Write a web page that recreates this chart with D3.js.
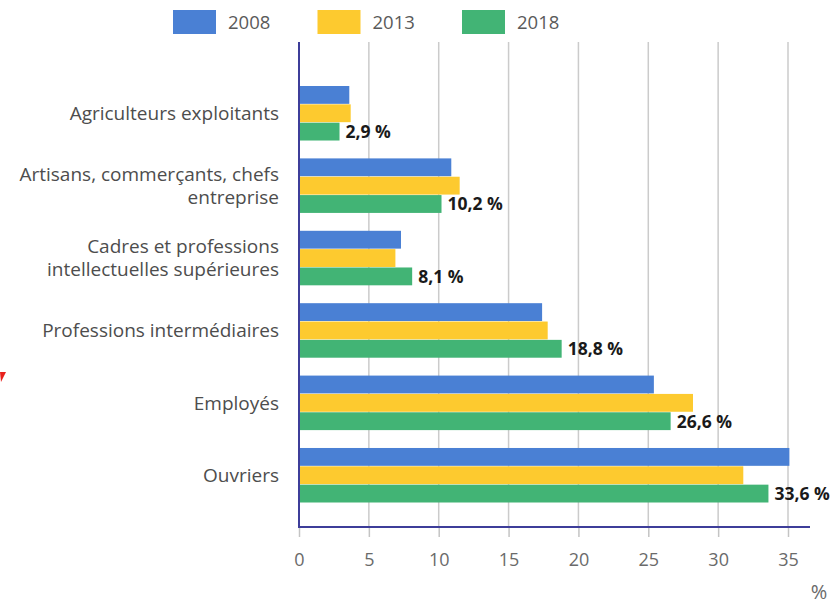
<!DOCTYPE html>
<html>
<head>
<meta charset="utf-8">
<script src="https://cdn.jsdelivr.net/npm/d3@7"></script>
<style>
  body { margin: 0; background: #fff; }
  svg text { font-family: "Open Sans", sans-serif; }
</style>
</head>
<body>
<div id="chart"></div>
<script>
  // categories (top to bottom), each label split in lines
  var categories = [
    ["Agriculteurs exploitants"],
    ["Artisans, commerçants, chefs", "entreprise"],
    ["Cadres et professions", "intellectuelles supérieures"],
    ["Professions intermédiaires"],
    ["Employés"],
    ["Ouvriers"]
  ];
  var years = ["2008", "2013", "2018"];
  var values2008 = [3.6, 10.9, 7.3, 17.4, 25.4, 35.1];
  var values2013 = [3.7, 11.5, 6.9, 17.8, 28.2, 31.8];
  var values2018 = [2.9, 10.2, 8.1, 18.8, 26.6, 33.6];
  var labels2018 = ["2,9 %", "10,2 %", "8,1 %", "18,8 %", "26,6 %", "33,6 %"];
  var xTicks = [0, 5, 10, 15, 20, 25, 30, 35];
  var colors = ["#4a80d4", "#fdca2f", "#42b475"];

  var width = 836, height = 606;
  var series = [values2008, values2013, values2018];

  var svg = d3.select("#chart")
    .append("svg")
    .attr("width", width)
    .attr("height", height);

  var x = d3.scaleLinear()
    .domain([0, 35])
    .range([299, 788]);

  var y = d3.scaleBand()
    .domain(d3.range(categories.length))
    .range([86, 503])
    .paddingInner(0.24)
    .paddingOuter(0);

  var ySub = d3.scaleBand()
    .domain(d3.range(years.length))
    .range([0, y.bandwidth()]);

  var axisTop = 42, axisBottom = 527;

  // grid lines
  svg.append("g")
    .selectAll("line")
    .data(xTicks.slice(1))
    .enter().append("line")
    .attr("x1", function (d) { return x(d); })
    .attr("x2", function (d) { return x(d); })
    .attr("y1", axisTop)
    .attr("y2", axisBottom)
    .attr("stroke", "#cbcbcb")
    .attr("stroke-width", 1.5);

  // bars
  var groups = svg.selectAll("g.serie")
    .data(series)
    .enter().append("g")
    .attr("class", "serie")
    .attr("fill", function (d, i) { return colors[i]; });

  groups.each(function (vals, s) {
    d3.select(this).selectAll("rect")
      .data(vals)
      .enter().append("rect")
      .attr("x", x(0))
      .attr("y", function (d, i) { return y(i) + ySub(s); })
      .attr("width", function (d) { return x(d) - x(0); })
      .attr("height", ySub.bandwidth() - 0.5);
  });

  // value labels on 2018 bars
  svg.append("g")
    .selectAll("text")
    .data(values2018)
    .enter().append("text")
    .attr("x", function (d) { return x(d) + 6; })
    .attr("y", function (d, i) { return y(i) + ySub(2) + ySub.bandwidth() / 2; })
    .attr("dy", "0.35em")
    .attr("font-size", "17.5px")
    .attr("font-weight", "bold")
    .attr("fill", "#1a1a1a")
    .text(function (d, i) { return labels2018[i]; });

  // category labels
  var catLabels = svg.append("g")
    .selectAll("text")
    .data(categories)
    .enter().append("text")
    .attr("text-anchor", "end")
    .attr("font-size", "19px")
    .attr("fill", "#4d4d4d");

  catLabels.each(function (lines, i) {
    var cy = y(i) + y.bandwidth() / 2;
    var lh = 23;
    d3.select(this).selectAll("tspan")
      .data(lines)
      .enter().append("tspan")
      .attr("x", 279)
      .attr("y", function (d, j) { return cy + (j - (lines.length - 1) / 2) * lh; })
      .attr("dy", "0.35em")
      .text(function (d) { return d; });
  });

  // x axis
  var xAxis = d3.axisBottom(x)
    .tickValues(xTicks)
    .tickSize(10)
    .tickPadding(16)
    .tickFormat(function (d) { return d; });

  var gx = svg.append("g")
    .attr("transform", "translate(0," + axisBottom + ")")
    .call(xAxis);
  gx.select(".domain").remove();
  gx.selectAll(".tick line").attr("stroke", "#c4c4c4").attr("stroke-width", 1.5);
  gx.selectAll(".tick text")
    .attr("font-size", "18px")
    .attr("fill", "#6a6a6a")
    .attr("font-family", "Open Sans, sans-serif");

  // axis lines
  svg.append("line")
    .attr("x1", x(0)).attr("x2", x(0))
    .attr("y1", axisTop).attr("y2", axisBottom)
    .attr("stroke", "#3d3d99").attr("stroke-width", 2);
  svg.append("line")
    .attr("x1", x(0) - 1).attr("x2", 810)
    .attr("y1", axisBottom).attr("y2", axisBottom)
    .attr("stroke", "#3d3d99").attr("stroke-width", 2);

  svg.append("text")
    .attr("x", 819)
    .attr("y", 592)
    .attr("dy", "0.35em")
    .attr("text-anchor", "middle")
    .attr("font-size", "20px")
    .attr("fill", "#6a6a6a")
    .text("%");

  // legend
  var legend = svg.selectAll(".legend")
    .data(years)
    .enter().append("g")
    .attr("class", "legend")
    .attr("transform", function (d, i) { return "translate(" + (173 + i * 144.5) + ",10)"; });

  legend.append("rect")
    .attr("width", 43)
    .attr("height", 24)
    .attr("fill", function (d, i) { return colors[i]; });

  legend.append("text")
    .attr("x", 55)
    .attr("y", 13)
    .attr("dy", "0.35em")
    .attr("font-size", "18.5px")
    .attr("fill", "#5a5a5a")
    .text(function (d) { return d; });

  // small red mark at the left edge
  svg.append("path")
    .attr("d", "M0,372 L6,372 L1,382 Z")
    .attr("fill", "#e8211c");
</script>
</body>
</html>
